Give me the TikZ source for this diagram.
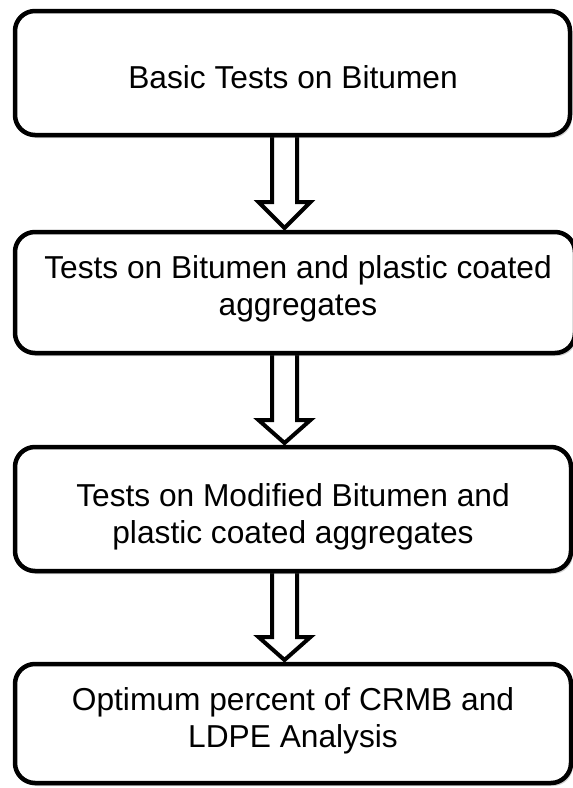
\documentclass[tikz,border=0pt]{standalone}
\usepackage{fontspec}
\setmainfont{Liberation Sans}
\usetikzlibrary{calc,shadows,backgrounds}
\begin{document}
\begin{tikzpicture}[x=1pt,y=-1pt,
  boxnode/.style={draw=black, line width=4.5pt, rounded corners=20pt, fill=white,
    drop shadow={shadow xshift=2pt, shadow yshift=-3pt, opacity=0.3, fill=black!60},
    inner sep=0pt, outer sep=0pt},
  label/.style={inner sep=0pt, outer sep=0pt, align=center, anchor=north,
    font=\fontsize{31.7}{37.5}\selectfont},
  blockarrow/.style={draw=black, fill=white, line width=4pt, line join=miter}]
\useasboundingbox (0,0) rectangle (573,788);
\node[boxnode, minimum width=555pt, minimum height=124pt] (b1) at (292.5,73) {};
\node[boxnode, minimum width=560pt, minimum height=121pt] (b2) at (295,292.5) {};
\node[boxnode, minimum width=556pt, minimum height=124pt] (b3) at (293,509) {};
\node[boxnode, minimum width=556pt, minimum height=119pt] (b4) at (293,723.5) {};
\node[label] (t1) at (293,65.4) {Basic Tests on Bitumen};
\node[label] (t2) at (298,255.4) {Tests on Bitumen and plastic coated\\aggregates};
\node[label] (t3) at (293,483.4) {Tests on Modified Bitumen and\\plastic coated aggregates};
\node[label] (t4) at (293,687.4) {Optimum percent of CRMB and\\LDPE Analysis};
\coordinate (ax) at (284.5,0);
\begin{pgfonlayer}{background}
\foreach \a/\b/\h in {b1/b2/30, b2/b3/27, b3/b4/27}{
  \draw[blockarrow]
    ($(\a.south -| ax)+(-12.5,0)$) -- ($(\b.north -| ax)+(-12.5,-\h)$)
    -- ($(\b.north -| ax)+(-26,-\h)$) -- ($(\b.north -| ax)+(0,-4)$)
    -- ($(\b.north -| ax)+(26,-\h)$) -- ($(\b.north -| ax)+(12.5,-\h)$)
    -- ($(\a.south -| ax)+(12.5,0)$) -- cycle;
}
\end{pgfonlayer}
\end{tikzpicture}
\end{document}
